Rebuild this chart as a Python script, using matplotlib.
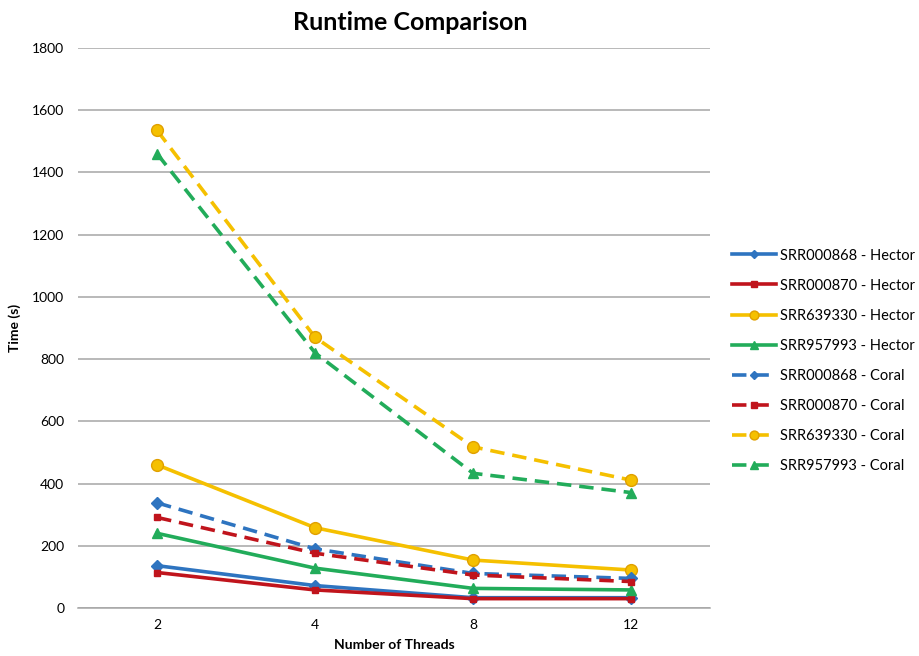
import numpy as np
import matplotlib.pyplot as plt

plt.rcParams['font.family'] = ['Lato', 'DejaVu Sans']

threads = ['2', '4', '8', '12']

hector_000868 = [136, 72, 33, 33]
hector_000870 = [114, 58, 30, 30]
hector_639330 = [460, 258, 154, 122]
hector_957993 = [240, 128, 63, 58]
coral_000868 = [338, 190, 111, 95]
coral_000870 = [291, 176, 106, 85]
coral_639330 = [1535, 870, 518, 411]
coral_957993 = [1460, 820, 433, 371]

blue = '#2e74c0'
red = '#c0141c'
yellow = '#f5c000'
green = '#22ac5a'

fig = plt.figure(figsize=(9.19, 6.56), dpi=100)
ax = fig.add_axes([0.085, 0.0732, 0.6876, 0.8536])

x = np.arange(len(threads))
series = [
    (hector_000868, 'SRR000868 - Hector', blue, 'D', '-'),
    (hector_000870, 'SRR000870 - Hector', red, 's', '-'),
    (hector_639330, 'SRR639330 - Hector', yellow, 'o', '-'),
    (hector_957993, 'SRR957993 - Hector', green, '^', '-'),
    (coral_000868, 'SRR000868 - Coral', blue, 'D', '--'),
    (coral_000870, 'SRR000870 - Coral', red, 's', '--'),
    (coral_639330, 'SRR639330 - Coral', yellow, 'o', '--'),
    (coral_957993, 'SRR957993 - Coral', green, '^', '--'),
]

sizes = {'D': 6, 's': 5, 'o': 8.5, '^': 7}
for vals, label, col, mk, ls in series:
    edge = '#e0a000' if mk == 'o' else col
    ax.plot(x, vals, linestyle=ls, color=col, linewidth=2.6, marker=mk,
            markersize=sizes[mk], markerfacecolor=col, markeredgecolor=edge,
            dashes=(4, 2.2) if ls == '--' else (None, None), label=label)

ax.set_xlim(-0.5, 3.5)
ax.set_ylim(0, 1800)
ax.set_yticks(range(0, 1801, 200))
ax.set_xticks(x)
ax.set_xticklabels(threads)
ax.yaxis.grid(True, color='#a6a6a6', linewidth=1.1)
ax.set_axisbelow(True)
for s in ['top', 'right', 'left']:
    ax.spines[s].set_visible(False)
ax.spines['bottom'].set_color('#a6a6a6')
ax.spines['bottom'].set_linewidth(1.1)
ax.tick_params(axis='both', length=0, labelsize=10, pad=8)
ax.tick_params(axis='y', pad=10)

ax.set_xlabel('Number of Threads', fontsize=10, fontweight='bold', labelpad=6)
ax.set_ylabel('Time (s)', fontsize=10, fontweight='bold', labelpad=8)
fig.text(0.446, 0.965, 'Runtime Comparison', fontsize=18, fontweight='bold',
         ha='center', va='center')

leg = fig.legend(loc='upper left', bbox_to_anchor=(0.79, 0.63), frameon=False,
                 fontsize=10.5, handlelength=3, handletextpad=0.3,
                 labelspacing=1.1, borderaxespad=0, markerscale=0.75)

fig.savefig('out.png', dpi=100)
